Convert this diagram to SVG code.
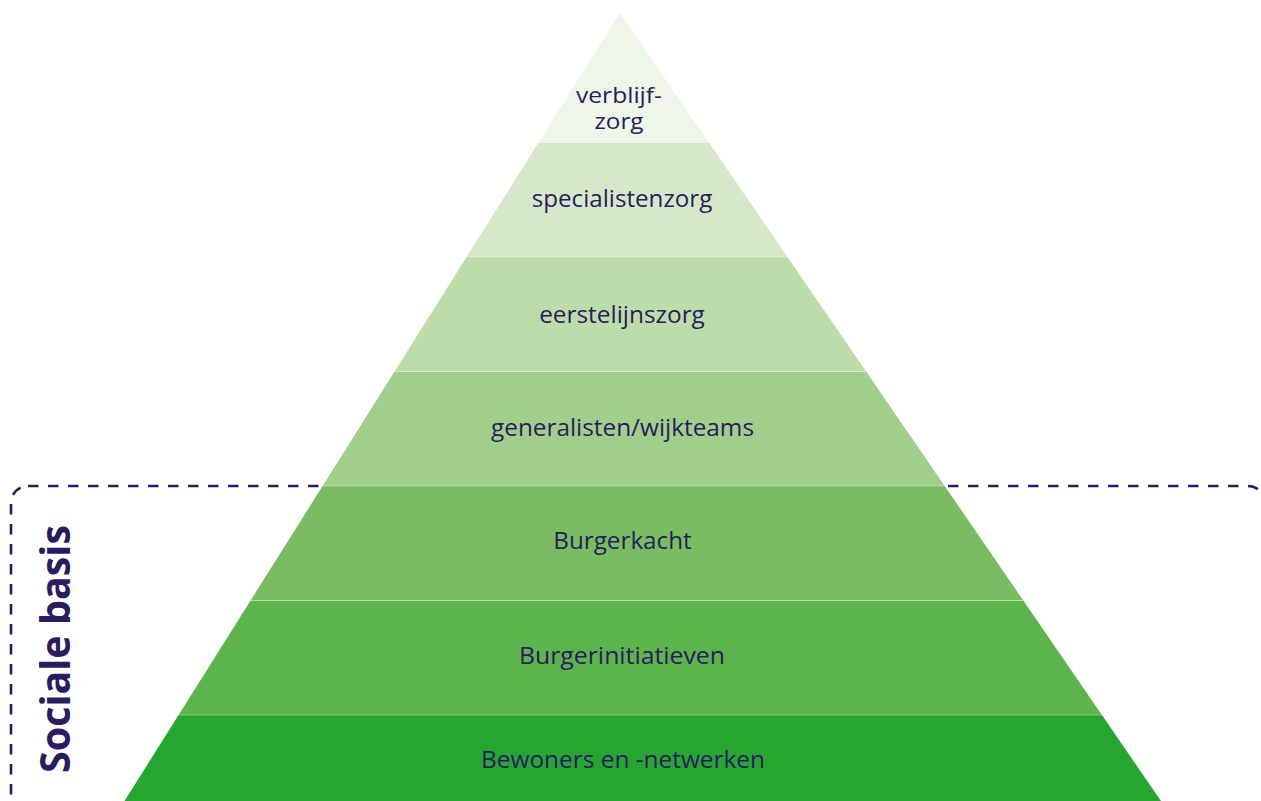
<svg xmlns="http://www.w3.org/2000/svg" width="1261" height="801" viewBox="0 0 1261 801">
  <style>
    .lbl { font-family: "Open Sans", "Noto Sans", "Liberation Sans", sans-serif; font-size: 23px; fill: #2A1C5E; text-anchor: middle; }
    .lbl-s { font-size: 22px; }
    .side { font-family: "Open Sans", "Noto Sans", "Liberation Sans", sans-serif; font-size: 41px; font-weight: bold; fill: #2A1C5E; text-anchor: middle; }
    .sep { stroke: #ffffff; stroke-opacity: 0.35; stroke-width: 1; fill: none; }
  </style>
  <rect width="1261" height="801" fill="#ffffff"/>
  <g id="sociale-basis">
    <rect x="11" y="486" width="1254" height="330" rx="17" ry="17" fill="none" stroke="#2A1C5E" stroke-width="2.6" stroke-dasharray="10.5 9.5"/>
    <text class="side" transform="translate(70,649) rotate(-90)" textLength="248" lengthAdjust="spacingAndGlyphs">Sociale basis</text>
  </g>
  <g id="layer-verblijfzorg">
    <polygon points="620,13 708.9,142.5 538.57,142.5" fill="#EEF6E9"/>
    <text class="lbl lbl-s" x="619" y="102.7" textLength="86" lengthAdjust="spacingAndGlyphs">verblijf-</text>
    <text class="lbl lbl-s" x="619" y="128.5" textLength="49" lengthAdjust="spacingAndGlyphs">zorg</text>
  </g>
  <g id="layer-specialistenzorg">
    <polygon points="538.57,142.5 708.9,142.5 787.51,257 466.57,257" fill="#D6E8C9"/>
    <text class="lbl" x="622" y="206.7" textLength="180.6" lengthAdjust="spacingAndGlyphs">specialistenzorg</text>
  </g>
  <g id="layer-eerstelijnszorg">
    <polygon points="466.57,257 787.51,257 866.11,371.5 394.58,371.5" fill="#BCDCAA"/>
    <text class="lbl" x="622" y="322.7" textLength="165.7" lengthAdjust="spacingAndGlyphs">eerstelijnszorg</text>
  </g>
  <g id="layer-generalisten">
    <polygon points="394.58,371.5 866.11,371.5 944.71,486 322.58,486" fill="#A1CE8B"/>
    <text class="lbl" x="622.5" y="436" textLength="263" lengthAdjust="spacingAndGlyphs">generalisten/wijkteams</text>
  </g>
  <g id="layer-burgerkacht">
    <polygon points="322.58,486 944.71,486 1023.32,600.5 250.58,600.5" fill="#79BC62"/>
    <text class="lbl" x="622.5" y="549.3" textLength="138.4" lengthAdjust="spacingAndGlyphs">Burgerkacht</text>
  </g>
  <g id="layer-burgerinitiatieven">
    <polygon points="250.58,600.5 1023.32,600.5 1101.92,715 178.58,715" fill="#5DB34C"/>
    <text class="lbl" x="622" y="664" textLength="206" lengthAdjust="spacingAndGlyphs">Burgerinitiatieven</text>
  </g>
  <g id="layer-bewoners">
    <polygon points="178.58,715 1101.92,715 1161,801 124.5,801" fill="#26A630"/>
    <text class="lbl" x="623" y="768" textLength="284" lengthAdjust="spacingAndGlyphs">Bewoners en -netwerken</text>
  </g>
  <g id="separators">
    <line class="sep" x1="538.57" y1="142.5" x2="708.9" y2="142.5"/>
    <line class="sep" x1="466.57" y1="257" x2="787.51" y2="257"/>
    <line class="sep" x1="394.58" y1="371.5" x2="866.11" y2="371.5"/>
    <line class="sep" x1="322.58" y1="486" x2="944.71" y2="486"/>
    <line class="sep" x1="250.58" y1="600.5" x2="1023.32" y2="600.5"/>
    <line class="sep" x1="178.58" y1="715" x2="1101.92" y2="715"/>
  </g>
</svg>
